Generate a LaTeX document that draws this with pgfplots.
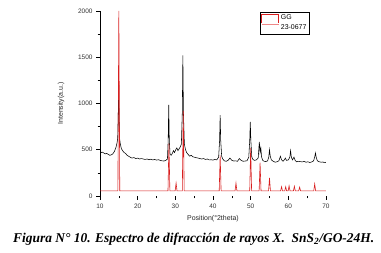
\documentclass[border=0pt]{standalone}
\usepackage{fontspec}
\setmainfont{Liberation Sans}
\newfontfamily\capfont{Liberation Serif}
\usepackage{pgfplots}
\pgfplotsset{compat=1.18}
\definecolor{PatRed}{HTML}{D81E1E}
\definecolor{PatPink}{HTML}{EE8888}

\begin{document}
\begin{tikzpicture}[x=1bp,y=1bp]
\useasboundingbox (0,0) rectangle (381,253);
\begin{axis}[
  at={(100bp,57bp)}, anchor=south west,
  scale only axis, width=226bp, height=185bp,
  xmin=10, xmax=70, ymin=0, ymax=2000,
  axis lines*=left,
  x axis line style={draw=none},
  y axis line style={line width=0.8pt},
  xtick={10,20,...,70}, ytick={0,500,...,2000},
  minor x tick num=1, minor y tick num=1,
  tick align=outside,
  major tick length=4bp, minor tick length=2.5bp,
  tick style={black, line width=0.5pt},
  /pgf/number format/assume math mode=true,
  /pgf/number format/set thousands separator={},
  tick label style={font=\fontsize{6.5}{7}\selectfont, color=black!80},
  xlabel={Position(°2theta)}, ylabel={Intensity(a.u.)},
  label style={font=\fontsize{7}{8}\selectfont, color=black!85},
  xlabel style={at={(axis description cs:0.5,-0.124)}, anchor=center},
  ylabel style={at={(axis description cs:-0.172,0.5)}, anchor=center},
  clip=true,
  legend style={at={(axis description cs:0.708,0.995)}, anchor=north west,
    draw=black, font=\fontsize{7}{8}\selectfont,
    inner sep=1pt, row sep=-1pt, cells={anchor=west}},
]
% measured pattern
\addplot[black, line width=0.55pt, mark=none, forget plot]
  coordinates {
(10.0,480) (10.3,470) (10.6,475) (11.0,465) (11.4,455) (11.8,460) (12.2,450) (12.6,440) (13.0,445) (13.4,455) (13.8,480) (14.2,520) (14.5,570) (14.7,620) (14.85,900) (14.95,1280) (15.05,900) (15.2,620) (15.4,560) (15.7,510) (16.0,490) (16.4,470) (16.8,460) (17.2,440) (17.6,430) (18.0,420) (18.5,410) (19.0,415) (19.5,405) (20.0,410) (20.5,400) (21.0,405) (21.5,400) (22.0,395) (22.5,400) (23.0,392) (23.5,398) (24.0,390) (24.5,395) (25.0,388) (25.5,392) (26.0,385) (26.5,380) (27.0,378) (27.5,385) (27.9,400) (28.1,600) (28.25,984) (28.4,600) (28.6,450) (28.9,440) (29.2,460) (29.5,490) (29.8,470) (30.1,500) (30.4,520) (30.7,490) (31.0,510) (31.3,530) (31.6,560) (31.85,900) (32.0,1520) (32.15,900) (32.4,560) (32.7,500) (33.0,470) (33.4,450) (33.8,430) (34.2,440) (34.6,425) (35.0,420) (35.5,415) (36.0,410) (36.5,405) (37.0,400) (37.5,405) (38.0,395) (38.5,400) (39.0,390) (39.5,392) (40.0,388) (40.5,395) (41.0,390) (41.5,420) (41.75,600) (41.9,875) (42.05,600) (42.3,430) (42.6,400) (43.0,380) (43.5,375) (44.0,385) (44.5,410) (45.0,385) (45.5,378) (46.0,380) (46.5,375) (47.0,405) (47.5,385) (48.0,375) (48.5,378) (49.0,380) (49.5,420) (49.75,600) (49.9,800) (50.05,600) (50.3,420) (50.6,395) (51.0,385) (51.5,390) (52.0,410) (52.3,585) (52.5,470) (52.7,520) (52.9,420) (53.2,385) (53.6,375) (54.0,372) (54.5,380) (54.8,420) (55.0,500) (55.2,430) (55.5,390) (56.0,375) (56.5,365) (57.0,370) (57.5,380) (57.9,430) (58.2,390) (58.6,375) (59.0,395) (59.2,410) (59.5,385) (60.0,390) (60.4,420) (60.6,490) (60.8,420) (61.1,390) (61.5,420) (61.8,385) (62.2,370) (62.7,375) (63.2,372) (63.7,368) (64.2,375) (64.7,365) (65.2,370) (65.7,362) (66.2,368) (66.7,380) (67.0,420) (67.2,465) (67.4,420) (67.7,380) (68.2,370) (68.7,365) (69.2,368) (69.6,360) (70.0,365)};
% reference pattern 23-0677
\addplot[PatRed, line width=0.6pt, mark=none, forget plot]
  coordinates {
(10,55) (14.75,55) (15,2000) (15.25,55)
(28.05,55) (28.3,570) (28.55,55)
(29.95,55) (30.2,140) (30.45,55)
(31.85,55) (32.1,920) (32.35,55)
(41.65,55) (41.9,440) (42.15,55)
(45.85,55) (46.1,140) (46.35,55)
(49.75,55) (50.0,520) (50.25,55)
(52.25,55) (52.5,360) (52.75,55)
(54.75,55) (55.0,195) (55.25,55)
(57.95,55) (58.2,100) (58.45,55)
(59.05,55) (59.3,100) (59.55,55)
(59.95,55) (60.2,110) (60.45,55)
(61.35,55) (61.6,105) (61.85,55)
(62.75,55) (63.0,95) (63.25,55)
(66.75,55) (67.0,130) (67.25,55)
(70,55)};
\addlegendimage{legend image code/.code={\draw[draw=PatRed, line width=0.5pt] (0bp,-5bp) -- (0bp,4bp) -- (17bp,4bp) -- (17bp,-5bp);}}
\addlegendentry{GG}
\addlegendimage{legend image code/.code={\draw[draw=PatPink, line width=0.7pt] (0bp,3bp) -- (17bp,3bp);}}
\addlegendentry{23-0677}
\end{axis}
\node[anchor=west, inner sep=0pt, font=\capfont\bfseries\itshape\fontsize{13.5}{15}\selectfont]
  at (13,14) {Figura N° 10. Espectro de difracción de rayos X.\ \ SnS\textsubscript{2}/GO-24H.};
\end{tikzpicture}
\end{document}
